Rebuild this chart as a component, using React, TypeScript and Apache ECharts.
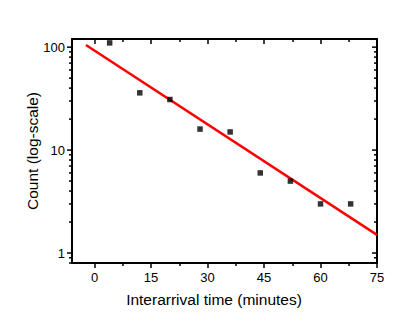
import React, { useEffect, useRef } from "react";
import * as echarts from "echarts";

const timeMinutes = [4, 12, 20, 28, 36, 44, 52, 60, 68];
const counts = [110, 36, 31, 16, 15, 6, 5, 3, 3];
const fitX = [-2.3, 75];
const fitY = [105, 1.5];
const xMajorTicks = [0, 15, 30, 45, 60, 75];
const xMinorTicks = [7.5, 22.5, 37.5, 52.5, 67.5];
const yMajorTicks = [1, 10, 100];
const yMinorTicks = [0.8, 0.9, 2, 3, 4, 5, 6, 7, 8, 9, 20, 30, 40, 50, 60, 70, 80, 90];

const FONT = "Liberation Sans, Arial, sans-serif";
const X_MIN = -6;
const X_MAX = 75;
const Y_MIN = 0.8;
const Y_MAX = 120;

export default function App() {
  const ref = useRef<HTMLDivElement>(null);
  useEffect(() => {
    if (!ref.current) return;
    const chart = echarts.init(ref.current, null, { renderer: "svg" });
    const lineStyle = { color: "#000", width: 2 };
    const tickLine = { color: "#000", width: 1.5 };
    const xBase = { type: "value", min: X_MIN, max: X_MAX, splitLine: { show: false } };
    const yBase = { type: "log", logBase: 10, min: Y_MIN, max: Y_MAX, splitLine: { show: false } };

    const yTickData = [
      ...yMajorTicks.map((v) => [v, 5]),
      ...yMinorTicks.map((v) => [v, 3]),
    ];

    const option = {
      animation: false,
      grid: { left: 72, right: 38, top: 39, bottom: 65, containLabel: false },
      xAxis: [
        {
          ...xBase,
          position: "bottom",
          axisLine: { show: true, onZero: false, lineStyle },
          axisTick: { show: true, inside: false, length: 5, lineStyle: tickLine, customValues: xMajorTicks },
          axisLabel: { show: true, customValues: xMajorTicks, margin: 8, color: "#000", fontSize: 13, fontFamily: FONT },
          name: "Interarrival time (minutes)",
          nameLocation: "middle",
          nameGap: 28,
          nameMoveOverlap: false,
          nameTextStyle: { color: "#000", fontSize: 15.5, fontFamily: FONT, padding: [0, 21, 0, 0] },
        },
        {
          ...xBase,
          position: "bottom",
          axisLine: { show: false, onZero: false },
          axisTick: { show: true, inside: false, length: 3, lineStyle: tickLine, customValues: xMinorTicks },
          axisLabel: { show: false },
        },
        {
          ...xBase,
          position: "top",
          axisLine: { show: true, onZero: false, lineStyle },
          axisTick: { show: true, inside: true, length: 5, lineStyle: tickLine, customValues: xMajorTicks },
          axisLabel: { show: false },
        },
        {
          ...xBase,
          position: "top",
          axisLine: { show: false, onZero: false },
          axisTick: { show: true, inside: true, length: 3, lineStyle: tickLine, customValues: xMinorTicks },
          axisLabel: { show: false },
        },
      ],
      yAxis: [
        {
          ...yBase,
          position: "left",
          axisLine: { show: true, onZero: false, lineStyle },
          axisTick: { show: false },
          axisLabel: { show: true, customValues: yMajorTicks, margin: 7, color: "#000", fontSize: 13, fontFamily: FONT },
          name: "Count (log-scale)",
          nameLocation: "middle",
          nameGap: 32,
          nameMoveOverlap: false,
          nameTextStyle: { color: "#000", fontSize: 15.5, fontFamily: FONT },
        },
        {
          ...yBase,
          position: "right",
          axisLine: { show: true, onZero: false, lineStyle },
          axisTick: { show: false },
          axisLabel: { show: false },
        },
      ],
      series: [
        {
          type: "custom",
          xAxisIndex: 0,
          yAxisIndex: 0,
          silent: true,
          clip: false,
          data: yTickData,
          encode: { y: 0 },
          renderItem: (params: any, api: any) => {
            const v = api.value(0);
            const len = api.value(1);
            const l = api.coord([X_MIN, v]);
            const r = api.coord([X_MAX, v]);
            const style = { stroke: "#000", lineWidth: 1.5 };
            return {
              type: "group",
              children: [
                { type: "line", shape: { x1: l[0] - len, y1: l[1], x2: l[0], y2: l[1] }, style },
                { type: "line", shape: { x1: r[0] - len, y1: r[1], x2: r[0], y2: r[1] }, style },
              ],
            };
          },
          z: 2,
        },
        {
          type: "line",
          xAxisIndex: 0,
          yAxisIndex: 0,
          data: fitX.map((x, i) => [x, fitY[i]]),
          showSymbol: false,
          symbol: "none",
          lineStyle: { color: "#ff0000", width: 2.5 },
          z: 3,
        },
        {
          type: "scatter",
          xAxisIndex: 0,
          yAxisIndex: 0,
          data: timeMinutes.map((x, i) => [x, counts[i]]),
          symbol: "rect",
          symbolSize: 5.5,
          itemStyle: { color: "#000" },
          z: 4,
        },
      ],
    };
    chart.setOption(option as any);
    return () => chart.dispose();
  }, []);
  return <div ref={ref} style={{ width: 415, height: 328, position: "absolute", left: 0, top: 0 }} />;
}
